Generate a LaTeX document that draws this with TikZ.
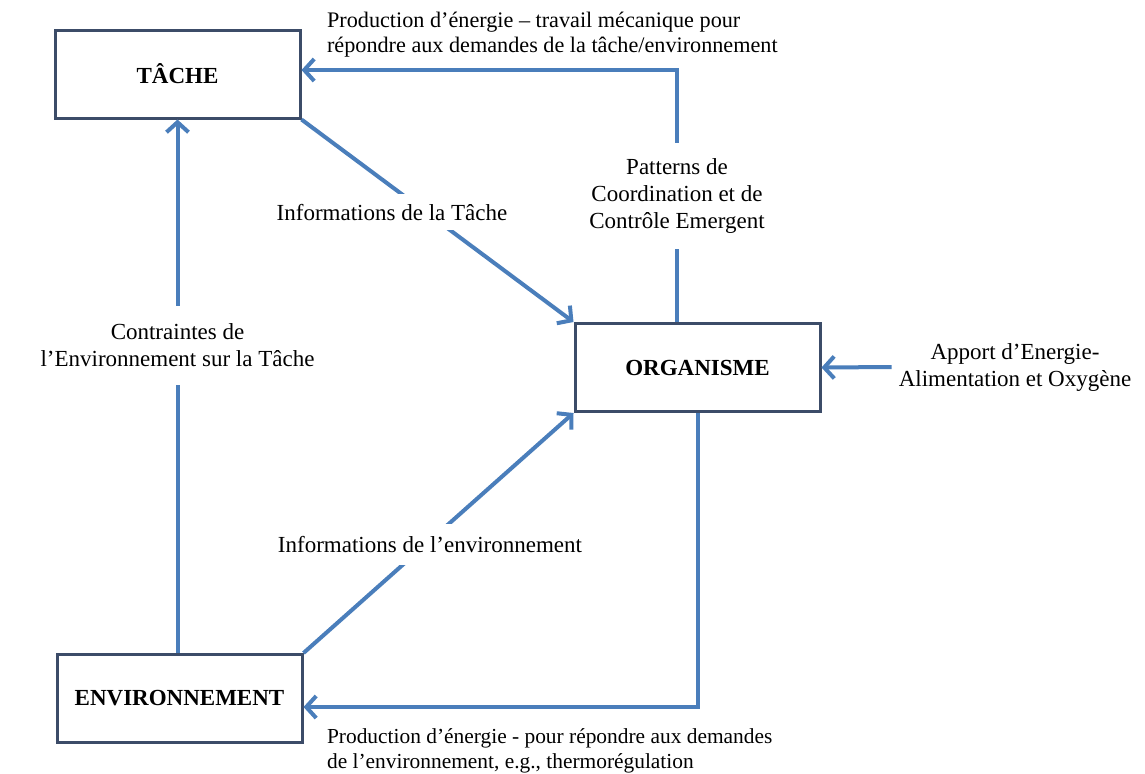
\documentclass[tikz,border=0pt]{standalone}
\usepackage{fontspec}
\setmainfont{Liberation Serif}
\usepackage{tikz}
\usetikzlibrary{arrows.meta}
\definecolor{flowblue}{RGB}{74,126,187}
\definecolor{boxline}{RGB}{60,76,104}
\tikzset{
  boite/.style={draw=boxline, line width=1.5pt, fill=white, minimum width=122.5pt, minimum height=44pt, font=\fontsize{11.5}{13.5}\selectfont\bfseries},
  fleche/.style={draw=flowblue, line width=2pt, -{Straight Barb[length=5pt,width=11pt]}},
  etiq/.style={align=center, text=black},
  coupe/.style={etiq, fill=white},
}

\begin{document}
\begin{tikzpicture}[x=0.5pt, y=-0.5pt, font=\fontsize{11.5}{13.5}\selectfont]
        \useasboundingbox (0,0) rectangle (1145,773);
        % boxes
        \node[boite] (tache) at (177.5,74) {TÂCHE};
        \node[boite] (org) at (697.5,367.5) {ORGANISME};
        \node[boite] (env) at (179.5,698.5) {ENVIRONNEMENT};
        % side labels
        \node[etiq] (apport) at (1015,367) {Apport d’Energie-\\Alimentation et Oxygène};
        \node[etiq, align=left, anchor=west, font=\fontsize{11.1}{12.5}\selectfont] (prodtache) at (320,34.5) {Production d’énergie – travail mécanique pour\\répondre aux demandes de la tâche/environnement};
        \node[etiq, align=left, anchor=west, font=\fontsize{10.7}{12.5}\selectfont] (prodenv) at (320,750.5) {Production d’énergie - pour répondre aux demandes\\de l’environnement, e.g., thermorégulation};
        % tache -> organisme
        \draw[fleche] (tache.south east) -- node[coupe, xshift=-22.75pt, yshift=4.25pt, inner ysep=5pt] (infotache) {Informations de la Tâche} (org.north west);
        % organisme -> tache
        \draw[fleche] ([xshift=-10.25pt]org.north) |- node[coupe, pos=0.25, inner ysep=8pt] (patterns) {Patterns de\\Coordination et de\\Contrôle Emergent} ([yshift=2pt]tache.east);
        % environnement -> tache
        \draw[fleche] (env.north -| tache.south) -- node[coupe, pos=0.577, inner ysep=9pt] (contraintes) {Contraintes de\\l’Environnement sur la Tâche} (tache.south);
        % environnement -> organisme
        \draw[fleche] (env.north east) -- node[coupe, xshift=-4.25pt, yshift=-5.75pt, inner ysep=6pt] (infoenv) {Informations de l’environnement} (org.south west);
        % organisme -> environnement
        \draw[fleche] (org.south) |- ([yshift=-4.25pt]env.east);
        % apport
        \draw[fleche] (apport.west) -- (org.east);
\end{tikzpicture}
\end{document}
